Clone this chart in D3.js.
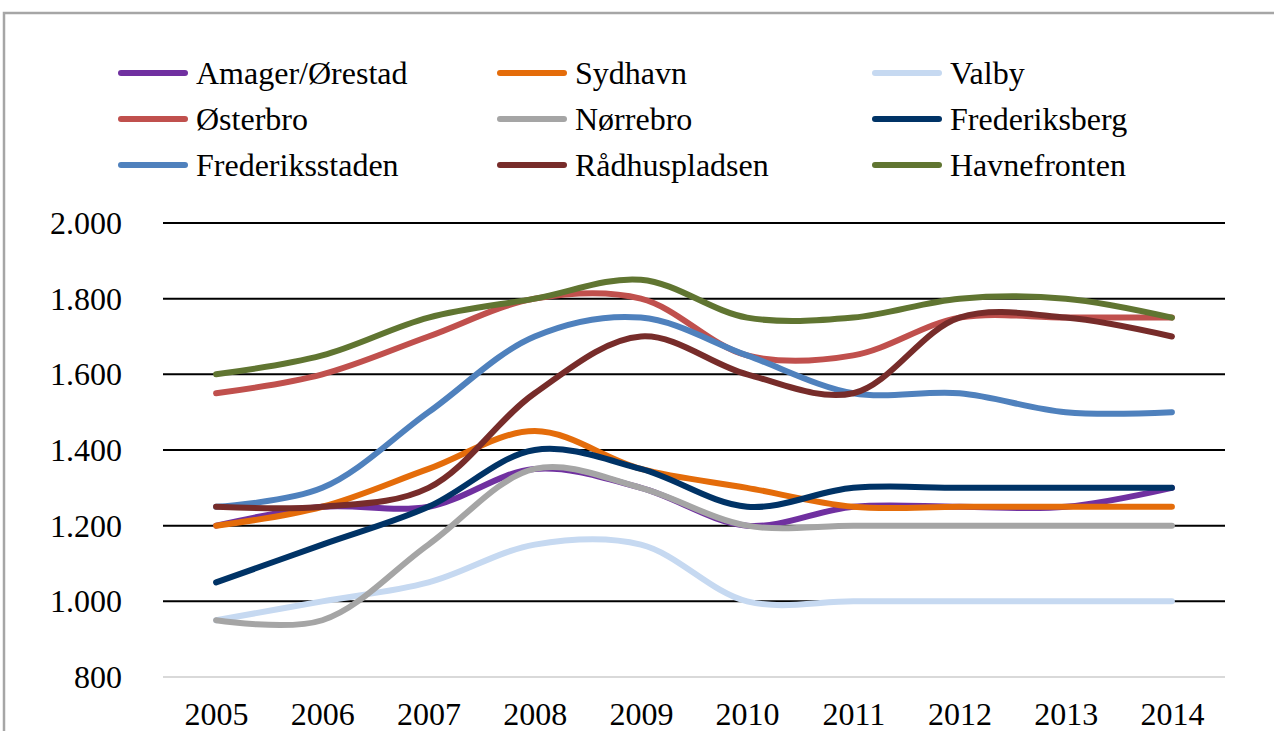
<!DOCTYPE html>
<html>
<head>
<meta charset="utf-8">
<script src="https://cdn.jsdelivr.net/npm/d3@7"></script>
<style>
  body { margin: 0; background: #fff; }
  svg { display: block; }
</style>
</head>
<body>
<svg id="chart" width="1274" height="731" font-family="Liberation Serif"></svg>
<script>
// values (pris pr. m2, approx)
var years = ["2005","2006","2007","2008","2009","2010","2011","2012","2013","2014"];
var yTicks = [800, 1000, 1200, 1400, 1600, 1800, 2000];

var amager        = [1200, 1250, 1250, 1350, 1300, 1200, 1250, 1250, 1250, 1300];
var sydhavn       = [1200, 1250, 1350, 1450, 1350, 1300, 1250, 1250, 1250, 1250];
var valby         = [950, 1000, 1050, 1150, 1150, 1000, 1000, 1000, 1000, 1000];
var osterbro      = [1550, 1600, 1700, 1800, 1800, 1650, 1650, 1750, 1750, 1750];
var norrebro      = [950, 950, 1150, 1350, 1300, 1200, 1200, 1200, 1200, 1200];
var frederiksberg = [1050, 1150, 1250, 1400, 1350, 1250, 1300, 1300, 1300, 1300];
var frederiksstad = [1250, 1300, 1500, 1700, 1750, 1650, 1550, 1550, 1500, 1500];
var raadhus       = [1250, 1250, 1300, 1550, 1700, 1600, 1550, 1750, 1750, 1700];
var havnefronten  = [1600, 1650, 1750, 1800, 1850, 1750, 1750, 1800, 1800, 1750];

var seriesNames = ["Amager/Ørestad", "Sydhavn", "Valby", "Østerbro", "Nørrebro",
    "Frederiksberg", "Frederiksstaden", "Rådhuspladsen", "Havnefronten"];
var seriesValues = [amager, sydhavn, valby, osterbro, norrebro,
    frederiksberg, frederiksstad, raadhus, havnefronten];
var seriesColors = ["#7030a0", "#e46c0a", "#c6d9f1", "#c0504d", "#a5a5a5",
    "#003366", "#4f81bd", "#772c2a", "#607531"];

var svg = d3.select("#chart");
var fontName = "Liberation Serif";
var fontSize = 32;

// outer frame, cut off by the window on right and bottom
svg.append("rect")
    .attr("x", 4).attr("y", 13)
    .attr("width", 1320).attr("height", 800)
    .attr("fill", "none")
    .attr("stroke", "#a6a6a6")
    .attr("stroke-width", 2.5);

var plot = {left: 163, right: 1225, top: 223, bottom: 677};

var x = d3.scalePoint()
    .domain(years)
    .range([plot.left, plot.right])
    .padding(0.5);

var y = d3.scaleLinear()
    .domain([800, 2000])
    .range([plot.bottom, plot.top]);

// gridlines
svg.append("g")
    .selectAll("line")
    .data(yTicks)
    .enter().append("line")
    .attr("x1", plot.left).attr("x2", plot.right)
    .attr("y1", function (d) { return y(d); })
    .attr("y2", function (d) { return y(d); })
    .attr("stroke", function (d) { return d === 800 ? "#d9d9d9" : "#000"; })
    .attr("stroke-width", 2);

// y axis labels
var yAxis = svg.append("g")
    .attr("transform", "translate(" + 132 + ",0)")
    .call(d3.axisLeft(y).tickValues(yTicks).tickSize(0).tickPadding(10)
        .tickFormat(function (d) { return d3.format(",")(d).replace(",", "."); }));
yAxis.attr("font-family", fontName).attr("font-size", fontSize);
yAxis.select(".domain").remove();
yAxis.selectAll("text")
    .attr("fill", "#000")
    .attr("dy", "0.33em");

// x axis labels
var xAxis = svg.append("g")
    .attr("transform", "translate(0," + plot.bottom + ")")
    .call(d3.axisBottom(x).tickSize(0).tickPadding(25));
xAxis.attr("font-family", fontName).attr("font-size", fontSize);
xAxis.select(".domain").remove();
xAxis.selectAll("text")
    .attr("fill", "#000");

// smoothed lines like Excel
var line = d3.line()
    .x(function (d, i) { return x(years[i]); })
    .y(function (d) { return y(d); })
    .curve(d3.curveCatmullRom.alpha(0.5));

svg.append("g")
    .selectAll("path")
    .data(seriesValues)
    .enter().append("path")
    .attr("d", line)
    .attr("fill", "none")
    .attr("stroke", function (d, i) { return seriesColors[i]; })
    .attr("stroke-width", 6)
    .attr("stroke-linecap", "round")
    .attr("stroke-linejoin", "round");

// legend: 3 columns x 3 rows
var legendCols = [118, 497, 872];
var legendRows = [73, 119, 165];

var legend = svg.append("g")
    .selectAll("g")
    .data(seriesNames)
    .enter().append("g")
    .attr("transform", function (d, i) {
        return "translate(" + legendCols[i % 3] + "," + legendRows[Math.floor(i / 3)] + ")";
    });

legend.append("line")
    .attr("x1", 3).attr("x2", 67)
    .attr("y1", 0).attr("y2", 0)
    .attr("stroke", function (d, i) { return seriesColors[i]; })
    .attr("stroke-width", 6)
    .attr("stroke-linecap", "round");

legend.append("text")
    .attr("x", 78)
    .attr("dy", "0.33em")
    .attr("font-family", fontName)
    .attr("font-size", fontSize)
    .attr("fill", "#000")
    .text(function (d) { return d; });
</script>
</body>
</html>
